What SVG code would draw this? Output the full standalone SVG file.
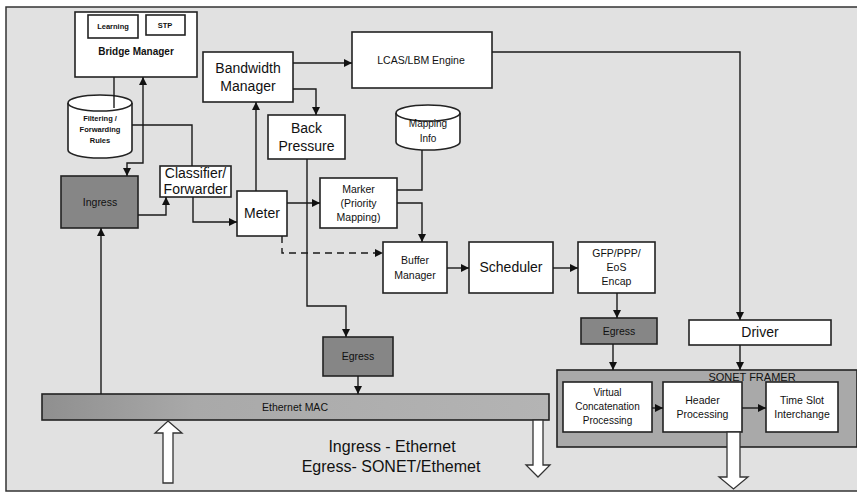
<svg xmlns="http://www.w3.org/2000/svg" width="857" height="494" viewBox="0 0 857 494">
<defs>
<marker id="ah" viewBox="0 0 10 10" refX="10" refY="5" markerWidth="9" markerHeight="8" markerUnits="userSpaceOnUse" orient="auto-start-reverse"><path d="M0,0 L10,5 L0,10 z" fill="#111"/></marker>
<linearGradient id="mac" x1="0" y1="0" x2="1" y2="0"><stop offset="0" stop-color="#8f8f8f"/><stop offset="0.3" stop-color="#a9a9a9"/><stop offset="1" stop-color="#b4b4b4"/></linearGradient>
</defs>
<style>
text{font-family:"Liberation Sans",Arial,sans-serif;fill:#111;text-anchor:middle}
.box{fill:#fff;stroke:#222;stroke-width:1.6}
.dark{fill:#868686;stroke:#222;stroke-width:1.6}
.c{fill:none;stroke:#1a1a1a;stroke-width:1.4}
.a{marker-end:url(#ah)}
.m{font-size:14px}
.s{font-size:10.5px}
.t{font-size:7.5px;font-weight:bold}
.hollow{fill:#fff;stroke:#333;stroke-width:1.3}
</style>
<rect x="0" y="0" width="857" height="494" fill="#fff"/>
<rect id="frame" x="6" y="7" width="852" height="484" fill="#e1e1e1" stroke="#333" stroke-width="1.5"/>

<g id="bridge-manager">
<rect class="box" x="75" y="12" width="122" height="65"/>
<rect class="box" x="88" y="15" width="50" height="23" stroke-width="1.2"/>
<text class="t" x="113" y="29">Learning</text>
<rect class="box" x="146" y="15" width="39" height="20" stroke-width="1.2"/>
<text class="t" x="165" y="28">STP</text>
<text x="136" y="55" style="font-size:10px;font-weight:bold">Bridge Manager</text>
</g>

<g id="filtering-rules">
<path d="M68,103 A32,8 0 0 1 132,103 L132,150 A32,8 0 0 1 68,150 Z" fill="#fff" stroke="#222" stroke-width="1.6"/>
<path d="M68,103 A32,8 0 0 0 132,103" fill="none" stroke="#222" stroke-width="1.6"/>
<text class="t" x="100" y="121">Filtering /</text>
<text class="t" x="100" y="132">Forwarding</text>
<text class="t" x="100" y="143">Rules</text>
</g>

<g id="ingress">
<rect class="dark" x="61" y="176" width="77" height="52"/>
<text class="s" x="100" y="206">Ingress</text>
</g>

<g id="classifier">
<rect class="box" x="160" y="166" width="71" height="31"/>
<text class="m" x="195.5" y="178">Classifier/</text>
<text class="m" x="195.5" y="194">Forwarder</text>
</g>

<g id="bandwidth-manager">
<rect class="box" x="203" y="52" width="90" height="50"/>
<text class="m" x="248" y="73">Bandwidth</text>
<text class="m" x="248" y="91">Manager</text>
</g>

<g id="lcas">
<rect class="box" x="352" y="32" width="140" height="56"/>
<text class="s" x="421" y="64">LCAS/LBM Engine</text>
</g>

<g id="back-pressure">
<rect class="box" x="268" y="115" width="77" height="44"/>
<text class="m" x="306.5" y="133">Back</text>
<text class="m" x="306.5" y="151">Pressure</text>
</g>

<g id="mapping-info">
<path d="M396,113 A32,8 0 0 1 460,113 L460,142 A32,8 0 0 1 396,142 Z" fill="#fff" stroke="#222" stroke-width="1.6"/>
<path d="M396,113 A32,8 0 0 0 460,113" fill="none" stroke="#222" stroke-width="1.6"/>
<text x="428" y="127" style="font-size:10px">Mapping</text>
<text x="428" y="142" style="font-size:10px">Info</text>
</g>

<g id="meter">
<rect class="box" x="237" y="191" width="50" height="45"/>
<text class="m" x="262" y="218">Meter</text>
</g>

<g id="marker">
<rect class="box" x="320" y="178" width="77" height="50"/>
<text class="s" x="358.5" y="193">Marker</text>
<text class="s" x="358.5" y="207">(Priority</text>
<text class="s" x="358.5" y="221">Mapping)</text>
</g>

<g id="buffer-manager">
<rect class="box" x="383" y="242" width="64" height="51"/>
<text class="s" x="415" y="264">Buffer</text>
<text class="s" x="415" y="279">Manager</text>
</g>

<g id="scheduler">
<rect class="box" x="469" y="242" width="84" height="51"/>
<text class="m" x="511" y="272">Scheduler</text>
</g>

<g id="gfp">
<rect class="box" x="578" y="242" width="77" height="51"/>
<text class="s" x="616.5" y="257">GFP/PPP/</text>
<text class="s" x="616.5" y="271">EoS</text>
<text class="s" x="616.5" y="285">Encap</text>
</g>

<g id="egress-mid">
<rect class="dark" x="323" y="337" width="70" height="39"/>
<text class="s" x="358" y="360">Egress</text>
</g>

<g id="egress-right">
<rect class="dark" x="581" y="318" width="76" height="26"/>
<text class="s" x="619" y="335">Egress</text>
</g>

<g id="driver">
<rect class="box" x="689" y="320" width="142" height="25"/>
<text class="m" x="760" y="337">Driver</text>
</g>

<g id="ethernet-mac">
<rect x="42" y="394" width="507" height="26" fill="url(#mac)" stroke="#222" stroke-width="1.6"/>
<text class="s" x="295" y="411">Ethernet MAC</text>
</g>

<g id="sonet-framer">
<rect x="557" y="370" width="300" height="77" fill="#a9a9a9" stroke="#222" stroke-width="1.6"/>
<text x="752" y="381" style="font-size:11px">SONET FRAMER</text>
<g id="vcp">
<rect class="box" x="563" y="382" width="89" height="50"/>
<text x="607.5" y="396" style="font-size:10px">Virtual</text>
<text x="607.5" y="410" style="font-size:10px">Concatenation</text>
<text x="607.5" y="424" style="font-size:10px">Processing</text>
</g>
<g id="header">
<rect class="box" x="663" y="382" width="79" height="50"/>
<text class="s" x="702.5" y="404">Header</text>
<text class="s" x="702.5" y="418">Processing</text>
</g>
<g id="tsi">
<rect class="box" x="766" y="382" width="72" height="50"/>
<text class="s" x="802" y="404">Time Slot</text>
<text class="s" x="802" y="418">Interchange</text>
</g>
</g>

<g id="connectors">
<path class="c" d="M114,77 V108"/>
<path class="c a" d="M127,176 V163 H143 V77" style="marker-start:url(#ah)"/>
<path class="c" d="M132,125 H192 V166"/>
<path class="c a" d="M138,215 H166 V197"/>
<path class="c a" d="M101,394 V228"/>
<path class="c a" d="M193,197 V222 H237"/>
<path class="c a" d="M256,191 V102"/>
<path class="c a" d="M293,63 H352"/>
<path class="c a" d="M492,52 H740 V320"/>
<path class="c a" d="M293,89 H316 V115"/>
<path class="c a" d="M307,159 V306 H346 V337"/>
<path class="c a" d="M287,203 H320"/>
<path class="c" d="M422,150 V190 H397"/>
<path class="c a" d="M397,203 H422 V242"/>
<path class="c a" d="M282,236 V253 H383" stroke-dasharray="7,5"/>
<path class="c a" d="M447,268 H469"/>
<path class="c a" d="M553,268 H578"/>
<path class="c a" d="M617,293 V318"/>
<path class="c a" d="M613,344 V370"/>
<path class="c a" d="M740,345 V370"/>
<path class="c a" d="M358,376 V394"/>
<path class="c a" d="M652,408 H663"/>
<path class="c a" d="M742,408 H766"/>
<polygon class="hollow" points="168,421 182,433 173,433 173,483 163,483 163,433 155,433"/>
<polygon class="hollow" points="533,420 543,420 543,465 550,465 538,477 526,465 533,465"/>
<polygon class="hollow" points="727,432 740,432 740,477 748,477 733.5,489 719,477 727,477"/>
</g>

<g id="caption">
<text x="392" y="452" style="font-size:16px">Ingress - Ethernet</text>
<text x="391" y="472" style="font-size:16px">Egress- SONET/Ethemet</text>
</g>
</svg>
